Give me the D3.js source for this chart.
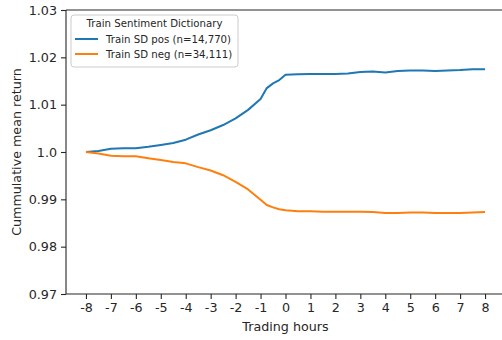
<!DOCTYPE html>
<html>
<head>
<meta charset="utf-8">
<script src="https://cdn.jsdelivr.net/npm/d3@7"></script>
<style>
body { margin: 0; background: #fff; }
text { font-family: "DejaVu Sans", sans-serif; fill: #262626; }
</style>
</head>
<body>
<div id="chart"></div>
<script>
var hours = [-8, -7.5, -7, -6.5, -6, -5.5, -5, -4.5, -4, -3.5, -3, -2.5, -2, -1.5, -1, -0.75, -0.5, -0.25,
             0, 0.5, 1, 1.5, 2, 2.5, 3, 3.5, 4, 4.5, 5, 5.5, 6, 6.5, 7, 7.5, 8];
var posReturn = [1.0000, 1.0002, 1.0007, 1.0008, 1.0008, 1.0011, 1.0015, 1.0019, 1.0026, 1.0037, 1.0046, 1.0057,
                 1.0071, 1.0089, 1.0112, 1.0135, 1.0145, 1.0152, 1.0163, 1.0164, 1.0165, 1.0165, 1.0165, 1.0166,
                 1.0169, 1.0170, 1.0168, 1.0171, 1.0172, 1.0172, 1.0171, 1.0172, 1.0173, 1.0175, 1.0175];
var negReturn = [1.0000, 0.9997, 0.9992, 0.9991, 0.9991, 0.9987, 0.9983, 0.9979, 0.9976, 0.9968, 0.9961, 0.9951,
                 0.9937, 0.9921, 0.9899, 0.9888, 0.9883, 0.9879, 0.9877, 0.9875, 0.9875, 0.9874, 0.9874, 0.9874,
                 0.9874, 0.9873, 0.9871, 0.9871, 0.9872, 0.9872, 0.9871, 0.9871, 0.9871, 0.9872, 0.9873];
var xTicks = d3.range(-8, 9);
var yTicks = [0.97, 0.98, 0.99, 1.0, 1.01, 1.02, 1.03];
var yTickLabels = ["0.97", "0.98", "0.99", "1.0", "1.01", "1.02", "1.03"];
var seriesNames = ["Train SD pos (n=14,770)", "Train SD neg (n=34,111)"];
var seriesColors = ["#1f77b4", "#ff7f0e"];

var svgwidth = 502, svgheight = 340;
var margin = {top: 10, left: 66, bottom: 46};
var height = svgheight - margin.top - margin.bottom;
var width = 439;

var svg = d3.select("#chart").append("svg")
    .attr("width", svgwidth)
    .attr("height", svgheight);

var x = d3.scaleLinear().domain([-8.8, 8.8]).range([0, width]);
var y = d3.scaleLinear().domain([0.97, 1.03]).range([height, 0]);

var g = svg.append("g").attr("transform", `translate(${margin.left},${margin.top})`);

var line = d3.line()
    .x(function(d) { return x(d[0]); })
    .y(function(d) { return y(d[1]); });

[posReturn, negReturn].forEach(function(vals, i) {
    g.append("path")
        .datum(hours.map(function(h, j) { return [h, vals[j]]; }))
        .attr("fill", "none")
        .attr("stroke", seriesColors[i])
        .attr("stroke-width", 2)
        .attr("stroke-linejoin", "round")
        .attr("d", line);
});

// axes
var xaxis = g.append("g")
    .attr("transform", `translate(0,${height})`)
    .call(d3.axisBottom(x).tickValues(xTicks).tickSize(5).tickPadding(4).tickFormat(function(d) { return String(d); }));
var yaxis = g.append("g")
    .call(d3.axisLeft(y).tickValues(yTicks).tickSize(5).tickPadding(4).tickFormat(function(d, i) { return yTickLabels[i]; }));

[xaxis, yaxis].forEach(function(a) {
    a.selectAll(".domain").attr("stroke", "#262626").attr("stroke-width", 1.1);
    a.selectAll(".tick line").attr("stroke", "#262626").attr("stroke-width", 1.1);
    a.selectAll(".tick text").style("font-size", "12.7px").attr("fill", "#262626");
});
yaxis.select(".domain").attr("d", `M0,${height}V0`);
xaxis.select(".domain").attr("d", `M0,0H${width}`);

// top and right spines
g.append("line").attr("x1", 0).attr("x2", width).attr("y1", 0).attr("y2", 0)
    .attr("stroke", "#262626").attr("stroke-width", 1.1);
g.append("line").attr("x1", width).attr("x2", width).attr("y1", 0).attr("y2", height)
    .attr("stroke", "#262626").attr("stroke-width", 1.1);

svg.append("text")
    .attr("x", margin.left + x(0))
    .attr("y", 331)
    .attr("text-anchor", "middle")
    .style("font-size", "12.7px")
    .text("Trading hours");

svg.append("text")
    .attr("transform", `translate(21,${margin.top + height / 2}) rotate(-90)`)
    .attr("text-anchor", "middle")
    .style("font-size", "12.7px")
    .text("Cummulative mean return");

// legend
var legend = svg.append("g").attr("transform", "translate(71,15)");
legend.append("rect")
    .attr("width", 167).attr("height", 52)
    .attr("rx", 3)
    .attr("fill", "#fff").attr("fill-opacity", 0.8)
    .attr("stroke", "#cccccc").attr("stroke-width", 1);
legend.append("text")
    .attr("x", 83.5).attr("y", 11.5)
    .attr("text-anchor", "middle")
    .style("font-size", "10.2px")
    .text("Train Sentiment Dictionary");
seriesNames.forEach(function(name, i) {
    var cy = 24 + i * 15;
    legend.append("line")
        .attr("x1", 4).attr("x2", 27).attr("y1", cy).attr("y2", cy)
        .attr("stroke", seriesColors[i]).attr("stroke-width", 2);
    legend.append("text")
        .attr("x", 35).attr("y", cy + 3.6)
        .style("font-size", "10.2px")
        .text(name);
});
</script>
</body>
</html>
